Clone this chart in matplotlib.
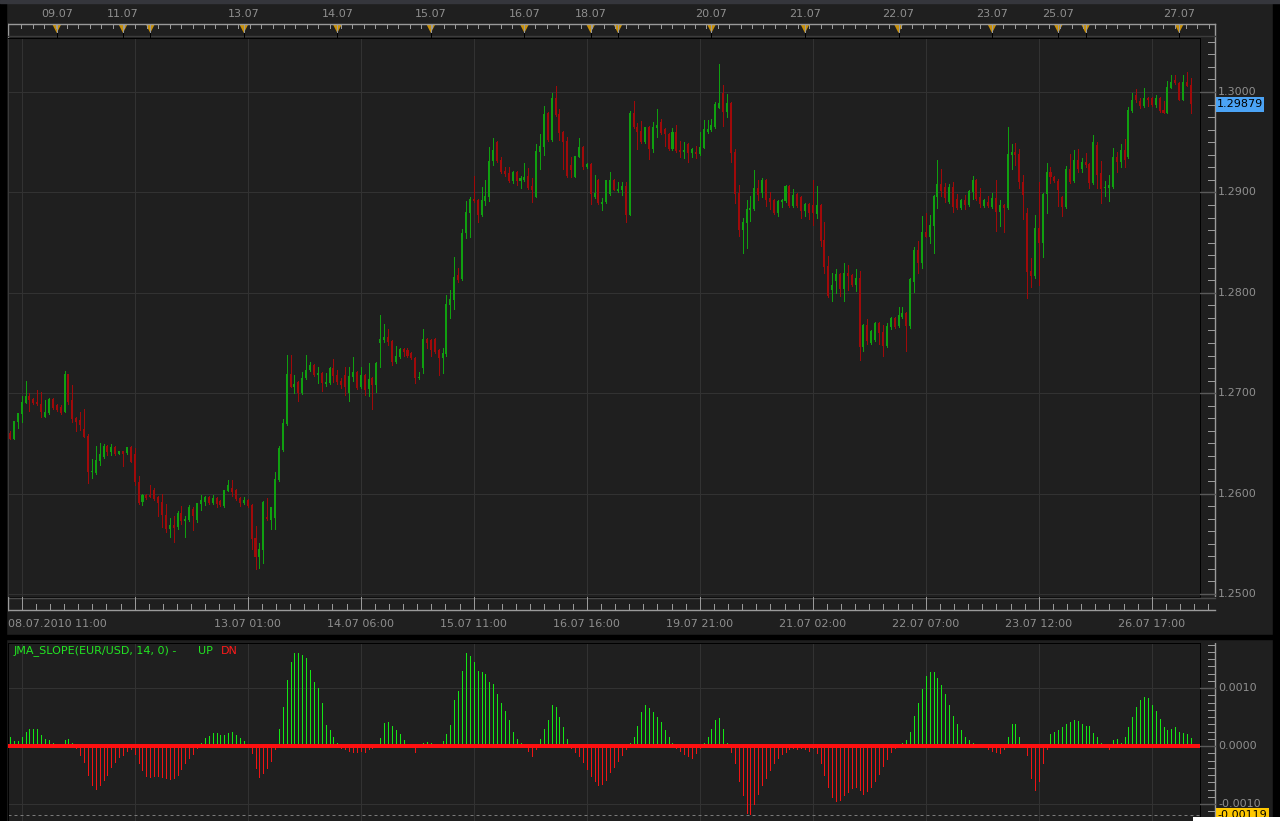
import numpy as np
import matplotlib.pyplot as plt
from matplotlib.patches import Rectangle, Polygon

W, H = 1280, 821
BG = '#1f1f1f'
GRID = '#323232'
TXT = '#8e8e8e'
RULER = '#9a9a9a'
UPC = '#10a010'
DNC = '#a00a0a'
GOLD = '#c8900a'
PX1 = 0.72   # one pixel line width in points

# ---- EUR/USD hourly candles ----
opens = [
    1.2660, 1.2654, 1.2671, 1.2679, 1.2690, 1.2697, 1.2694, 1.2691, 1.2689, 1.2676,
    1.2680, 1.2694, 1.2688, 1.2686, 1.2681, 1.2719, 1.2693, 1.2675, 1.2673, 1.2664,
    1.2657, 1.2622, 1.2621, 1.2632, 1.2636, 1.2647, 1.2641, 1.2646, 1.2639, 1.2642,
    1.2640, 1.2646, 1.2639, 1.2612, 1.2592, 1.2599, 1.2599, 1.2604, 1.2597, 1.2592,
    1.2579, 1.2565, 1.2569, 1.2567, 1.2581, 1.2573, 1.2574, 1.2585, 1.2574, 1.2590,
    1.2592, 1.2597, 1.2591, 1.2596, 1.2593, 1.2588, 1.2603, 1.2606, 1.2604, 1.2596,
    1.2591, 1.2594, 1.2589, 1.2556, 1.2537, 1.2544, 1.2577, 1.2574, 1.2576, 1.2614,
    1.2643, 1.2669, 1.2719, 1.2706, 1.2711, 1.2700, 1.2715, 1.2723, 1.2728, 1.2718,
    1.2720, 1.2709, 1.2710, 1.2725, 1.2718, 1.2712, 1.2718, 1.2700, 1.2716, 1.2721,
    1.2706, 1.2718, 1.2704, 1.2715, 1.2708, 1.2750, 1.2753, 1.2756, 1.2752, 1.2731,
    1.2736, 1.2744, 1.2743, 1.2740, 1.2735, 1.2715, 1.2725, 1.2754, 1.2753, 1.2754,
    1.2743, 1.2735, 1.2739, 1.2788, 1.2793, 1.2818, 1.2814, 1.2860, 1.2879, 1.2893,
    1.2892, 1.2877, 1.2891, 1.2895, 1.2931, 1.2950, 1.2932, 1.2921, 1.2919, 1.2911,
    1.2920, 1.2911, 1.2912, 1.2916, 1.2906, 1.2895, 1.2940, 1.2945, 1.2979, 1.2952,
    1.2994, 1.2978, 1.2960, 1.2951, 1.2927, 1.2915, 1.2935, 1.2945, 1.2925, 1.2928,
    1.2895, 1.2912, 1.2888, 1.2890, 1.2898, 1.2912, 1.2901, 1.2902, 1.2906, 1.2877,
    1.2979, 1.2965, 1.2961, 1.2950, 1.2965, 1.2943, 1.2964, 1.2970, 1.2963, 1.2958,
    1.2943, 1.2960, 1.2942, 1.2940, 1.2948, 1.2939, 1.2940, 1.2938, 1.2944, 1.2960,
    1.2962, 1.2965, 1.2984, 1.2999, 1.2980, 1.2989, 1.2940, 1.2899, 1.2863, 1.2870,
    1.2882, 1.2883, 1.2904, 1.2899, 1.2912, 1.2894, 1.2892, 1.2879, 1.2890, 1.2891,
    1.2906, 1.2886, 1.2898, 1.2895, 1.2881, 1.2888, 1.2887, 1.2878, 1.2887, 1.2853,
    1.2827, 1.2803, 1.2812, 1.2819, 1.2804, 1.2820, 1.2818, 1.2808, 1.2815, 1.2746,
    1.2768, 1.2750, 1.2753, 1.2770, 1.2761, 1.2747, 1.2766, 1.2775, 1.2767, 1.2776,
    1.2780, 1.2767, 1.2811, 1.2843, 1.2830, 1.2861, 1.2856, 1.2867, 1.2895, 1.2908,
    1.2905, 1.2890, 1.2905, 1.2893, 1.2884, 1.2892, 1.2887, 1.2900, 1.2912, 1.2895,
    1.2886, 1.2890, 1.2885, 1.2894, 1.2880, 1.2887, 1.2884, 1.2937, 1.2940, 1.2938,
    1.2910, 1.2879, 1.2822, 1.2817, 1.2865, 1.2850, 1.2898, 1.2920, 1.2915, 1.2911,
    1.2895, 1.2885, 1.2923, 1.2911, 1.2932, 1.2923, 1.2930, 1.2928, 1.2909, 1.2947,
    1.2919, 1.2904, 1.2904, 1.2905, 1.2935, 1.2930, 1.2942, 1.2935, 1.2981, 1.2997,
    1.2991, 1.2986, 1.2994, 1.2994, 1.2987, 1.2994, 1.2982, 1.2979, 1.3004, 1.3012,
    1.3009, 1.2992, 1.3010, 1.3007]
highs = [
    1.2662, 1.2672, 1.2680, 1.2697, 1.2712, 1.2700, 1.2695, 1.2703, 1.2701, 1.2693,
    1.2695, 1.2695, 1.2689, 1.2688, 1.2722, 1.2719, 1.2708, 1.2676, 1.2681, 1.2684,
    1.2659, 1.2634, 1.2647, 1.2650, 1.2649, 1.2648, 1.2649, 1.2647, 1.2642, 1.2642,
    1.2646, 1.2647, 1.2645, 1.2618, 1.2600, 1.2600, 1.2609, 1.2606, 1.2598, 1.2600,
    1.2590, 1.2576, 1.2578, 1.2583, 1.2588, 1.2578, 1.2589, 1.2587, 1.2591, 1.2599,
    1.2598, 1.2598, 1.2599, 1.2597, 1.2594, 1.2604, 1.2614, 1.2614, 1.2605, 1.2597,
    1.2597, 1.2595, 1.2590, 1.2568, 1.2551, 1.2593, 1.2596, 1.2587, 1.2622, 1.2647,
    1.2674, 1.2738, 1.2738, 1.2718, 1.2712, 1.2721, 1.2738, 1.2731, 1.2729, 1.2726,
    1.2721, 1.2720, 1.2726, 1.2734, 1.2723, 1.2715, 1.2726, 1.2726, 1.2736, 1.2722,
    1.2726, 1.2719, 1.2730, 1.2716, 1.2731, 1.2778, 1.2769, 1.2764, 1.2753, 1.2747,
    1.2745, 1.2745, 1.2745, 1.2741, 1.2736, 1.2721, 1.2764, 1.2755, 1.2754, 1.2755,
    1.2744, 1.2745, 1.2798, 1.2803, 1.2836, 1.2825, 1.2864, 1.2891, 1.2895, 1.2916,
    1.2893, 1.2905, 1.2912, 1.2945, 1.2954, 1.2951, 1.2935, 1.2925, 1.2925, 1.2921,
    1.2921, 1.2916, 1.2929, 1.2924, 1.2914, 1.2948, 1.2958, 1.2986, 1.2980, 1.2999,
    1.3006, 1.2983, 1.2961, 1.2955, 1.2935, 1.2936, 1.2954, 1.2946, 1.2929, 1.2929,
    1.2917, 1.2913, 1.2894, 1.2912, 1.2920, 1.2913, 1.2910, 1.2910, 1.2910, 1.2981,
    1.2991, 1.2969, 1.2971, 1.2965, 1.2966, 1.2970, 1.2983, 1.2973, 1.2964, 1.2959,
    1.2964, 1.2967, 1.2951, 1.2950, 1.2949, 1.2944, 1.2946, 1.2960, 1.2972, 1.2972,
    1.2973, 1.2990, 1.3028, 1.3007, 1.2998, 1.2990, 1.2943, 1.2907, 1.2875, 1.2892,
    1.2896, 1.2922, 1.2912, 1.2914, 1.2913, 1.2900, 1.2893, 1.2892, 1.2893, 1.2907,
    1.2907, 1.2903, 1.2899, 1.2896, 1.2889, 1.2889, 1.2912, 1.2906, 1.2888, 1.2871,
    1.2837, 1.2820, 1.2824, 1.2820, 1.2830, 1.2828, 1.2819, 1.2824, 1.2822, 1.2769,
    1.2774, 1.2763, 1.2771, 1.2771, 1.2768, 1.2770, 1.2776, 1.2776, 1.2786, 1.2786,
    1.2781, 1.2815, 1.2846, 1.2852, 1.2876, 1.2879, 1.2877, 1.2897, 1.2932, 1.2923,
    1.2909, 1.2908, 1.2910, 1.2898, 1.2893, 1.2897, 1.2902, 1.2916, 1.2913, 1.2904,
    1.2893, 1.2896, 1.2899, 1.2912, 1.2892, 1.2888, 1.2965, 1.2948, 1.2949, 1.2943,
    1.2917, 1.2884, 1.2835, 1.2877, 1.2910, 1.2899, 1.2929, 1.2925, 1.2916, 1.2913,
    1.2896, 1.2926, 1.2938, 1.2942, 1.2943, 1.2934, 1.2939, 1.2929, 1.2957, 1.2950,
    1.2931, 1.2911, 1.2917, 1.2944, 1.2940, 1.2948, 1.2953, 1.2985, 1.2999, 1.3003,
    1.2994, 1.3004, 1.2995, 1.2995, 1.2997, 1.2995, 1.2991, 1.3011, 1.3017, 1.3017,
    1.3010, 1.3017, 1.3020, 1.3014]
lows = [
    1.2654, 1.2654, 1.2665, 1.2671, 1.2690, 1.2682, 1.2689, 1.2688, 1.2676, 1.2676,
    1.2679, 1.2684, 1.2682, 1.2679, 1.2681, 1.2689, 1.2671, 1.2662, 1.2663, 1.2656,
    1.2611, 1.2616, 1.2620, 1.2628, 1.2635, 1.2638, 1.2638, 1.2638, 1.2639, 1.2627,
    1.2639, 1.2631, 1.2609, 1.2590, 1.2589, 1.2595, 1.2597, 1.2594, 1.2578, 1.2567,
    1.2562, 1.2557, 1.2552, 1.2565, 1.2570, 1.2557, 1.2573, 1.2564, 1.2572, 1.2584,
    1.2589, 1.2590, 1.2590, 1.2587, 1.2588, 1.2587, 1.2603, 1.2598, 1.2594, 1.2588,
    1.2590, 1.2587, 1.2545, 1.2525, 1.2526, 1.2531, 1.2574, 1.2565, 1.2565, 1.2613,
    1.2642, 1.2668, 1.2706, 1.2700, 1.2692, 1.2699, 1.2714, 1.2722, 1.2717, 1.2710,
    1.2702, 1.2707, 1.2709, 1.2711, 1.2709, 1.2705, 1.2698, 1.2692, 1.2712, 1.2704,
    1.2705, 1.2698, 1.2697, 1.2684, 1.2701, 1.2726, 1.2751, 1.2748, 1.2728, 1.2730,
    1.2735, 1.2737, 1.2736, 1.2734, 1.2710, 1.2714, 1.2720, 1.2745, 1.2737, 1.2740,
    1.2718, 1.2720, 1.2737, 1.2775, 1.2784, 1.2811, 1.2813, 1.2855, 1.2856, 1.2890,
    1.2871, 1.2876, 1.2887, 1.2891, 1.2927, 1.2930, 1.2919, 1.2916, 1.2910, 1.2909,
    1.2907, 1.2904, 1.2911, 1.2903, 1.2890, 1.2895, 1.2923, 1.2937, 1.2951, 1.2951,
    1.2976, 1.2952, 1.2923, 1.2915, 1.2915, 1.2915, 1.2935, 1.2923, 1.2924, 1.2888,
    1.2894, 1.2888, 1.2882, 1.2889, 1.2897, 1.2902, 1.2900, 1.2897, 1.2871, 1.2877,
    1.2964, 1.2943, 1.2949, 1.2949, 1.2933, 1.2940, 1.2955, 1.2958, 1.2946, 1.2942,
    1.2942, 1.2940, 1.2935, 1.2934, 1.2930, 1.2935, 1.2934, 1.2937, 1.2944, 1.2959,
    1.2961, 1.2964, 1.2984, 1.2966, 1.2975, 1.2930, 1.2889, 1.2857, 1.2840, 1.2845,
    1.2872, 1.2882, 1.2892, 1.2895, 1.2886, 1.2883, 1.2878, 1.2876, 1.2885, 1.2890,
    1.2885, 1.2885, 1.2885, 1.2875, 1.2876, 1.2874, 1.2868, 1.2875, 1.2847, 1.2820,
    1.2796, 1.2792, 1.2800, 1.2797, 1.2792, 1.2803, 1.2807, 1.2802, 1.2733, 1.2742,
    1.2749, 1.2749, 1.2752, 1.2749, 1.2737, 1.2746, 1.2764, 1.2765, 1.2766, 1.2775,
    1.2742, 1.2765, 1.2801, 1.2820, 1.2825, 1.2856, 1.2850, 1.2840, 1.2884, 1.2896,
    1.2890, 1.2889, 1.2880, 1.2883, 1.2883, 1.2883, 1.2886, 1.2893, 1.2892, 1.2885,
    1.2885, 1.2885, 1.2884, 1.2862, 1.2867, 1.2861, 1.2883, 1.2923, 1.2927, 1.2904,
    1.2874, 1.2795, 1.2806, 1.2815, 1.2808, 1.2836, 1.2879, 1.2909, 1.2910, 1.2886,
    1.2876, 1.2884, 1.2909, 1.2910, 1.2920, 1.2920, 1.2925, 1.2904, 1.2908, 1.2904,
    1.2889, 1.2896, 1.2891, 1.2904, 1.2920, 1.2925, 1.2925, 1.2934, 1.2980, 1.2990,
    1.2984, 1.2985, 1.2986, 1.2986, 1.2985, 1.2980, 1.2979, 1.2979, 1.3004, 1.3008,
    1.2992, 1.2992, 1.3006, 1.2979]
closes = [
    1.2654, 1.2672, 1.2680, 1.2691, 1.2697, 1.2693, 1.2690, 1.2689, 1.2681, 1.2681,
    1.2694, 1.2685, 1.2683, 1.2680, 1.2719, 1.2691, 1.2674, 1.2671, 1.2668, 1.2656,
    1.2622, 1.2623, 1.2633, 1.2639, 1.2647, 1.2641, 1.2646, 1.2639, 1.2642, 1.2639,
    1.2646, 1.2631, 1.2612, 1.2591, 1.2599, 1.2596, 1.2597, 1.2595, 1.2591, 1.2579,
    1.2565, 1.2569, 1.2566, 1.2581, 1.2573, 1.2575, 1.2587, 1.2578, 1.2591, 1.2594,
    1.2597, 1.2591, 1.2596, 1.2590, 1.2589, 1.2604, 1.2609, 1.2602, 1.2595, 1.2591,
    1.2594, 1.2588, 1.2555, 1.2537, 1.2545, 1.2592, 1.2575, 1.2587, 1.2615, 1.2645,
    1.2670, 1.2719, 1.2706, 1.2709, 1.2700, 1.2715, 1.2723, 1.2728, 1.2718, 1.2720,
    1.2710, 1.2711, 1.2725, 1.2717, 1.2711, 1.2708, 1.2706, 1.2717, 1.2721, 1.2705,
    1.2718, 1.2703, 1.2714, 1.2708, 1.2730, 1.2754, 1.2756, 1.2751, 1.2731, 1.2737,
    1.2744, 1.2741, 1.2737, 1.2735, 1.2715, 1.2716, 1.2754, 1.2750, 1.2743, 1.2741,
    1.2735, 1.2740, 1.2789, 1.2794, 1.2816, 1.2813, 1.2860, 1.2880, 1.2893, 1.2891,
    1.2877, 1.2892, 1.2896, 1.2931, 1.2942, 1.2931, 1.2920, 1.2918, 1.2911, 1.2920,
    1.2911, 1.2914, 1.2915, 1.2904, 1.2902, 1.2941, 1.2946, 1.2978, 1.2952, 1.2994,
    1.2977, 1.2959, 1.2950, 1.2916, 1.2922, 1.2936, 1.2945, 1.2925, 1.2928, 1.2898,
    1.2899, 1.2889, 1.2890, 1.2912, 1.2912, 1.2902, 1.2903, 1.2906, 1.2877, 1.2979,
    1.2965, 1.2960, 1.2950, 1.2965, 1.2943, 1.2965, 1.2967, 1.2959, 1.2958, 1.2943,
    1.2960, 1.2941, 1.2940, 1.2942, 1.2939, 1.2943, 1.2938, 1.2945, 1.2963, 1.2963,
    1.2967, 1.2988, 1.2989, 1.2980, 1.2989, 1.2939, 1.2898, 1.2863, 1.2871, 1.2883,
    1.2884, 1.2904, 1.2897, 1.2912, 1.2892, 1.2890, 1.2879, 1.2891, 1.2892, 1.2906,
    1.2886, 1.2897, 1.2886, 1.2881, 1.2888, 1.2879, 1.2879, 1.2887, 1.2852, 1.2826,
    1.2797, 1.2808, 1.2819, 1.2804, 1.2820, 1.2817, 1.2808, 1.2815, 1.2746, 1.2768,
    1.2752, 1.2762, 1.2770, 1.2760, 1.2747, 1.2767, 1.2775, 1.2766, 1.2778, 1.2780,
    1.2767, 1.2814, 1.2843, 1.2830, 1.2861, 1.2856, 1.2868, 1.2896, 1.2908, 1.2901,
    1.2894, 1.2905, 1.2885, 1.2884, 1.2892, 1.2887, 1.2901, 1.2912, 1.2893, 1.2888,
    1.2892, 1.2886, 1.2894, 1.2880, 1.2887, 1.2884, 1.2938, 1.2940, 1.2937, 1.2910,
    1.2897, 1.2821, 1.2817, 1.2865, 1.2850, 1.2898, 1.2920, 1.2915, 1.2911, 1.2902,
    1.2885, 1.2923, 1.2910, 1.2932, 1.2923, 1.2930, 1.2927, 1.2909, 1.2950, 1.2917,
    1.2903, 1.2905, 1.2907, 1.2935, 1.2930, 1.2942, 1.2932, 1.2982, 1.2992, 1.2992,
    1.2986, 1.2994, 1.2992, 1.2987, 1.2994, 1.2981, 1.2979, 1.3005, 1.3010, 1.3009,
    1.2992, 1.3010, 1.3006, 1.29879]

# JMA_SLOPE(EUR/USD, 14, 0) histogram, one value per candle
slope = [
    0.00015, 0.00009, 0.00009, 0.00016, 0.00024, 0.0003, 0.0003, 0.00029, 0.00019, 0.00012,
    0.0001, 0.00006, 0.00004, 0.00001, 0.0001, 0.00012, 0.00005,
    -0.00003, -0.00016, -0.00028, -0.0005, -0.00068, -0.00074, -0.00068, -0.00058, -0.0005,
    -0.00037, -0.00028, -0.00019, -0.00015, -0.00008, -0.00005,
    -0.00014, -0.00029, -0.00041, -0.00051, -0.00053, -0.00052, -0.00051, -0.00054, -0.00055,
    -0.00057, -0.00056, -0.0005, -0.0004, -0.0003, -0.00021, -0.00013, -0.00004,
    0.00006, 0.00013, 0.00018, 0.00022, 0.00022, 0.00019, 0.00019, 0.00023, 0.00025, 0.00019,
    0.00014, 0.00009, 0.00002,
    -0.00012, -0.00038, -0.00053, -0.00047, -0.00038, -0.00026, -0.00005,
    0.0003, 0.00067, 0.00114, 0.00145, 0.0016, 0.0016,
    0.00157, 0.00152, 0.00131, 0.00111, 0.001, 0.00074, 0.00037, 0.00028, 0.00015, 0.00005,
    -0.00003, -0.00006, -0.00008, -0.0001, -0.0001, -0.00008, -0.0001, -0.00006, -0.00003, 0.00002,
    0.00013, 0.0004, 0.00042, 0.00035, 0.00028, 0.0002, 0.00011, 0.00004,
    -0.00001, -0.0001, -0.00002, 0.00005, 0.00007, 0.00005, 0.00003, 0.00004, 0.00008,
    0.0002, 0.00037, 0.0008, 0.00094, 0.0013, 0.0016, 0.00155, 0.00144, 0.0013, 0.00128,
    0.00124, 0.0011, 0.00107, 0.0009, 0.00075, 0.00061, 0.00045, 0.00025, 0.00012, 0.00005, 0.00002,
    -0.00008, -0.00017, -0.00005,
    0.00012, 0.0003, 0.00045, 0.0007, 0.00068, 0.0005, 0.00032, 0.00012,
    -0.00004, -0.0001, -0.00018, -0.00028, -0.0004, -0.00052, -0.0006, -0.00067, -0.00066,
    -0.00058, -0.00045, -0.00036, -0.00025, -0.00015, -0.00005,
    0.00005, 0.00015, 0.00035, 0.00058, 0.0007, 0.00065, 0.00058, 0.0005, 0.00042, 0.00028,
    0.00015, 0.00005,
    -0.00003, -0.00008, -0.00013, -0.00018, -0.0002, -0.00012, -0.00004,
    0.00005, 0.00015, 0.0003, 0.00045, 0.00048, 0.0003, 0.00005,
    -0.0001, -0.0003, -0.0006, -0.00085, -0.00115, -0.00118, -0.001, -0.00082, -0.00068,
    -0.00055, -0.00042, -0.0003, -0.0002, -0.00013, -0.0001, -0.00006,
    -0.00004, -0.00005, -0.00003, -0.00006, -0.00008, -0.00004, -0.00012,
    -0.0003, -0.0005, -0.0007, -0.00088, -0.00095, -0.00093, -0.00085, -0.0008, -0.00072,
    -0.0007, -0.00076, -0.00082, -0.00078, -0.0007, -0.0006, -0.00048, -0.00035, -0.00022,
    -0.0001, -0.00004, -0.00002,
    0.00005, 0.0001, 0.00025, 0.00052, 0.00075, 0.00098, 0.0012, 0.00128, 0.00128, 0.00118,
    0.00105, 0.0009, 0.0007, 0.00052, 0.00038, 0.00028, 0.00015, 0.0001, 0.00005, 0.00003, 0.00001,
    -0.00002, -0.00005, -0.00008, -0.0001, -0.00012, -0.00005,
    0.00015, 0.00038, 0.00038, 0.00015, 0.00002,
    -0.00015, -0.00055, -0.00075, -0.0006, -0.0003, -0.00005,
    0.0002, 0.00025, 0.00028, 0.00032, 0.00038, 0.00042, 0.00045, 0.00043, 0.00038, 0.00035,
    0.00035, 0.00022, 0.00015, 0.00005, 0.00002, -0.00005, 0.0001, 0.00012,
    0.00005, 0.00015, 0.00032, 0.0005, 0.00068, 0.0008, 0.00085, 0.00083,
    0.0007, 0.00061, 0.00047, 0.00032, 0.00028, 0.0003, 0.00032, 0.00025, 0.00023, 0.00021, 0.00013]

# day separators (candle index) and their labels on the top ruler
day_idx = [12, 29, 36, 60, 84, 108, 132, 149, 156, 180, 204, 228, 252, 269, 276, 300]
day_labels = ['09.07', '11.07', '', '13.07', '14.07', '15.07', '16.07', '18.07', '',
              '20.07', '21.07', '22.07', '23.07', '25.07', '', '27.07']
# time grid (candle index) and bottom labels
grid_idx = [3, 32, 61, 90, 119, 148, 177, 206, 235, 264, 293]
grid_labels = ['08.07.2010 11:00', '', '13.07 01:00', '14.07 06:00', '15.07 11:00',
               '16.07 16:00', '19.07 21:00', '21.07 02:00', '22.07 07:00',
               '23.07 12:00', '26.07 17:00']
price_ticks = [1.25, 1.26, 1.27, 1.28, 1.29, 1.30]
slope_ticks = [-0.001, 0.0, 0.001]
last_price = 1.29879
slope_marker = -0.00119

n = len(closes)
assert len(opens) == n and len(highs) == n and len(lows) == n and len(slope) == n

# ---- pixel layout ----
PX0, STEP = 10.0, 3.897          # pixel x of first candle, pixels per candle
def ix(px):
    return (px - PX0) / STEP

PPU = 10040.0                     # pixels per price unit
def price_at(py):
    return 1.3 - (py - 92) / PPU

SPU = 58000.0                     # pixels per slope unit
def slope_at(py):
    return (746 - py) / SPU

plt.rcParams['font.family'] = ['DejaVu Sans']
fig = plt.figure(figsize=(12.8, 8.21), dpi=100, facecolor=BG)


def px_axes(x0, y0, x1, y1, z=0):
    ax = fig.add_axes([x0 / W, 1 - y1 / H, (x1 - x0) / W, (y1 - y0) / H], zorder=z)
    ax.set_axis_off()
    return ax


# background strips
bg = px_axes(0, 0, W, H, z=-10)
bg.set_xlim(0, W)
bg.set_ylim(H, 0)
bg.add_patch(Rectangle((0, 0), 6, H, color='black'))
bg.add_patch(Rectangle((1273, 0), 7, H, color='black'))
bg.add_patch(Rectangle((0, 635), W, 4, color='black'))
bg.add_patch(Rectangle((0, 0), W, 3, color='#35363c'))

x = np.arange(n)
o = np.array(opens)
c = np.array(closes)
up = c >= o
cols = np.where(up, UPC, DNC)

# ---- main price panel ----
main_ylim = (price_at(597), price_at(38))
ax = fig.add_axes([8 / W, 1 - 597 / H, (1200 - 8) / W, (597 - 38) / H])
ax.set_facecolor(BG)
ax.set_xlim(ix(8), ix(1200))
ax.set_ylim(*main_ylim)
ax.set_xticks([])
ax.set_yticks([])
for s in ax.spines.values():
    s.set_color('black')
    s.set_linewidth(PX1)
ax.spines['left'].set_color('#3a3a3a')
for g in grid_idx:
    ax.axvline(g, color=GRID, lw=PX1, antialiased=False, zorder=0)
for p in price_ticks:
    ax.axhline(p, color=GRID, lw=PX1, antialiased=False, zorder=0)
ax.vlines(x, lows, highs, colors=cols, lw=PX1, antialiased=False, zorder=2)
ax.bar(x, np.maximum(np.abs(c - o), 1.0 / PPU), bottom=np.minimum(o, c), width=0.52,
       color=cols, linewidth=0, antialiased=False, zorder=3)

# ---- indicator panel ----
ind_ylim = (slope_at(821), slope_at(643))
ai = fig.add_axes([8 / W, 1 - 821 / H, (1200 - 8) / W, (821 - 643) / H])
ai.set_facecolor(BG)
ai.set_xlim(ix(8), ix(1200))
ai.set_ylim(*ind_ylim)
ai.set_xticks([])
ai.set_yticks([])
for s in ai.spines.values():
    s.set_color('black')
    s.set_linewidth(PX1)
for g in grid_idx:
    ai.axvline(g, color=GRID, lw=PX1, antialiased=False, zorder=0)
for v in slope_ticks:
    ai.axhline(v, color=GRID, lw=PX1, antialiased=False, zorder=0)
sv = np.array(slope)
ai.vlines(x, 0, sv, colors=np.where(sv >= 0, '#14e614', '#f01414'), lw=PX1,
          antialiased=False, zorder=2)
ai.axhline(0, color='#ff1010', lw=1.45, antialiased=False, zorder=3)
ai.axhline(slope_marker, color='#7a7a7a', lw=PX1, ls=(0, (3, 3)), zorder=1)

# ---- top ruler with day markers ----
at = px_axes(8, 0, 1272, 38)
at.set_xlim(ix(8), ix(1272))
at.set_ylim(38, 0)
at.plot([ix(8), ix(1215)], [24, 24], color=RULER, lw=1)
at.plot([ix(7.5), ix(7.5)], [24, 37], color=RULER, lw=1)
at.plot([ix(1215), ix(1215)], [24, 38], color=RULER, lw=1)
at.plot([ix(8), ix(1215)], [36, 36], color='#3c3c3c', lw=1)
for t in np.arange(2.9, ix(1212), 2.93):
    at.plot([t, t], [24, 28], color=RULER, lw=PX1)
for d, lab in zip(day_idx, day_labels):
    at.plot([d, d], [24, 33], color=RULER, lw=PX1)
    at.plot([d, d], [33, 38], color='black', lw=PX1)
    at.add_patch(Polygon([(d - 1.05, 25), (d + 1.05, 25), (d, 33)], closed=True,
                         color=GOLD, lw=0))
    if lab:
        at.text(d, 14, lab, ha='center', va='center', color=TXT, fontsize=8)

# ---- bottom time ruler ----
ab = px_axes(8, 597, 1272, 636)
ab.set_xlim(ix(8), ix(1272))
ab.set_ylim(636, 597)
ab.plot([ix(8), ix(1215)], [597.5, 597.5], color='#4a4a4a', lw=1)
ab.plot([ix(8), ix(1215)], [610, 610], color=RULER, lw=1)
ab.plot([ix(7.5), ix(7.5)], [597, 610], color=RULER, lw=1)
for t in np.arange(grid_idx[0], ix(1212), 29 / 8):
    ab.plot([t, t], [604, 610], color=RULER, lw=PX1)
for g in grid_idx:
    ab.plot([g, g], [597, 610], color=RULER, lw=PX1)
for k, (g, lab) in enumerate(zip(grid_idx, grid_labels)):
    if not lab:
        continue
    if k == 0:
        ab.text(ix(8), 624, lab, ha='left', va='center', color=TXT, fontsize=8)
    else:
        ab.text(g, 624, lab, ha='center', va='center', color=TXT, fontsize=8)

# ---- right price scale ----
ar = px_axes(1200, 38, 1272, 597, z=2)
ar.set_xlim(1200, 1272)
ar.set_ylim(*main_ylim)
ar.plot([1215, 1215], main_ylim, color=RULER, lw=1)
for k in range(-4, 48):
    v = 1.25 + k * 0.00125
    if main_ylim[0] < v < main_ylim[1]:
        ar.plot([1208, 1215], [v, v], color=RULER, lw=PX1)
for p in price_ticks:
    ar.plot([1200, 1215], [p, p], color='#5a5a5a', lw=1)
    ar.text(1218, p, f'{p:.4f}', ha='left', va='center', color=TXT, fontsize=8)
ar.add_patch(Rectangle((1215.5, last_price - 7.5 / PPU), 48, 15 / PPU,
                       color='#4ba3f5', lw=0, zorder=5))
ar.text(1217, last_price, f'{last_price:.5f}', ha='left', va='center',
        color='black', fontsize=8, zorder=6)

# ---- right indicator scale ----
ari = px_axes(1200, 643, 1272, 821, z=2)
ari.set_xlim(1200, 1272)
ari.set_ylim(*ind_ylim)
ari.plot([1215, 1215], ind_ylim, color=RULER, lw=1)
for k in range(-12, 16):
    v = k * 0.000125
    if ind_ylim[0] < v < ind_ylim[1]:
        ari.plot([1208, 1215], [v, v], color=RULER, lw=PX1)
for v in slope_ticks:
    ari.plot([1200, 1215], [v, v], color='#5a5a5a', lw=1)
    ari.text(1218, v, f'{v:.4f}', ha='left', va='center', color=TXT, fontsize=8)
ari.add_patch(Rectangle((1216, slope_marker - 7 / SPU), 53, 14 / SPU,
                        color='#ffc800', lw=0, zorder=5))
ari.text(1217, slope_marker, f'{slope_marker:.5f}', ha='left', va='center',
         color='black', fontsize=8, zorder=6)

# ---- overlay texts ----
fg = px_axes(0, 0, W, H, z=10)
fg.set_xlim(0, W)
fg.set_ylim(H, 0)
fg.text(14, 651, 'JMA_SLOPE(EUR/USD, 14, 0) -', ha='left', va='center',
        color='#22e622', fontsize=8)
fg.text(198, 651, 'UP', ha='left', va='center', color='#22e622', fontsize=8)
fg.text(221, 651, 'DN', ha='left', va='center', color='#ff1a1a', fontsize=8)
fg.add_patch(Rectangle((1193, 817), 87, 4, color='white', lw=0))

fig.savefig('out.png', dpi=100, facecolor=BG)
